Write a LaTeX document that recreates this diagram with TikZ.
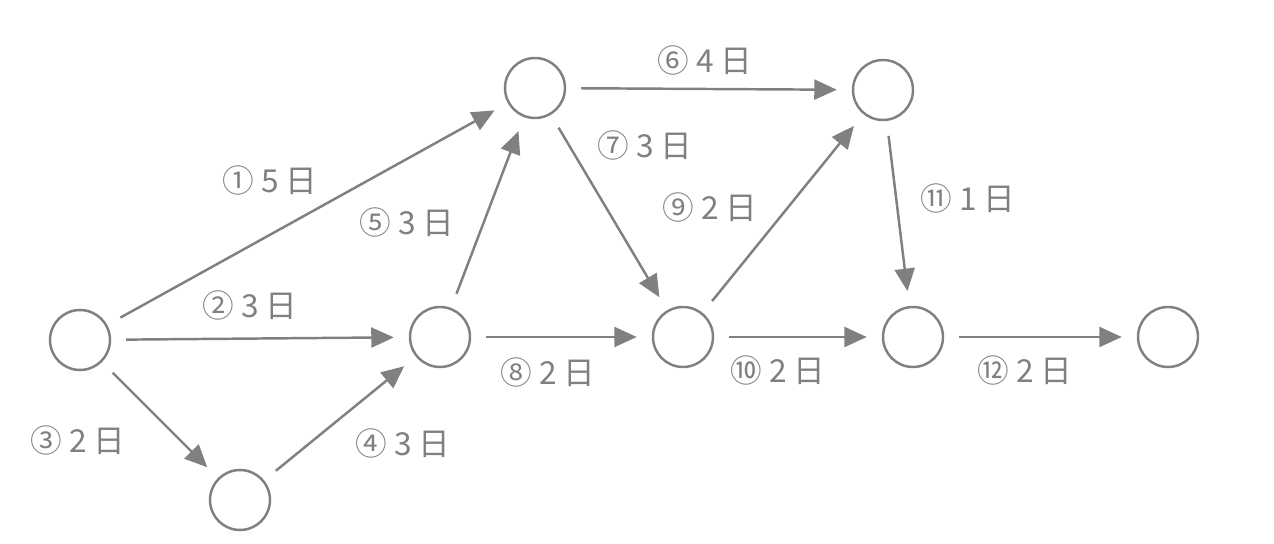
\documentclass[tikz,border=0pt]{standalone}
\usepackage{fontspec}
\setmainfont{Noto Sans CJK JP}
\usetikzlibrary{arrows.meta}
\definecolor{netGray}{RGB}{128,128,128}
\tikzstyle{event} = [circle, draw=netGray, line width=1.4pt, minimum size=1.2cm, inner sep=0pt]
\tikzstyle{job} = [draw=netGray, line width=1.4pt, shorten <=0.3cm, shorten >=0.3cm, -{Triangle[length=0.45cm,width=0.4cm]}]
\tikzstyle{jobText} = [text=netGray, font=\fontsize{18}{20}\selectfont]
\begin{document}
\begin{tikzpicture}
  \useasboundingbox (0,0) rectangle (25.48,10.88);
  % events
  \node [event] (a) at (1.6,4.08) {};
  \node [event] (b) at (4.8,0.88) {};
  \node [event] (c) at (8.8,4.14) {};
  \node [event] (d) at (10.7,9.12) {};
  \node [event] (e) at (13.66,4.14) {};
  \node [event] (f) at (17.66,9.08) {};
  \node [event] (g) at (18.26,4.14) {};
  \node [event] (h) at (23.36,4.14) {};
  % jobs
  \draw [job] (a) -- (d);
  \draw [job] (a) -- (c);
  \draw [job] (a) -- (b);
  \draw [job] (b) -- (c);
  \draw [job] (c) -- (d);
  \draw [job] (d) -- (f);
  \draw [job] (d) -- (e);
  \draw [job] (c) -- (e);
  \draw [job] (e) -- (f);
  \draw [job] (e) -- (g);
  \draw [job] (f) -- (g);
  \draw [job] (g) -- (h);
  % durations
  \node [jobText] (t1) at (5.4,7.28) {① 5 日};
  \node [jobText] (t2) at (5.0,4.78) {② 3 日};
  \node [jobText] (t3) at (1.56,2.08) {③ 2 日};
  \node [jobText] (t4) at (8.06,2.02) {④ 3 日};
  \node [jobText] (t5) at (8.14,6.44) {⑤ 3 日};
  \node [jobText] (t6) at (14.1,9.68) {⑥ 4 日};
  \node [jobText] (t7) at (12.9,7.98) {⑦ 3 日};
  \node [jobText] (t8) at (10.96,3.44) {⑧ 2 日};
  \node [jobText] (t9) at (14.2,6.74) {⑨ 2 日};
  \node [jobText] (t10) at (15.56,3.48) {⑩ 2 日};
  \node [jobText] (t11) at (19.36,6.92) {⑪ 1 日};
  \node [jobText] (t12) at (20.5,3.48) {⑫ 2 日};
\end{tikzpicture}
\end{document}
